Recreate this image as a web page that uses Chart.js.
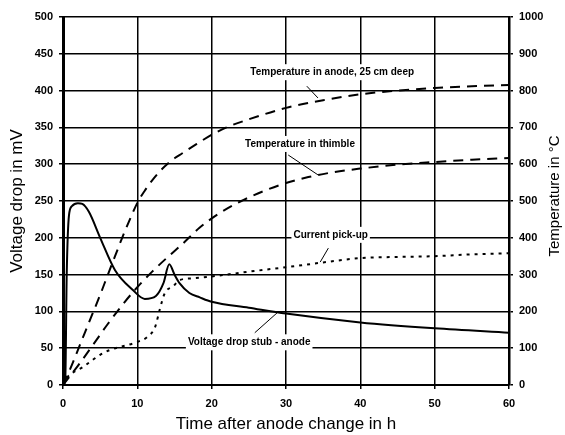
<!DOCTYPE html>
<html>
<head>
<meta charset="utf-8">
<script src="https://cdn.jsdelivr.net/npm/chart.js@4.4.1/dist/chart.umd.min.js"></script>
<style>
  html, body { margin: 0; padding: 0; background: #fff; }
  #wrap { width: 565px; height: 435px; }
</style>
</head>
<body>
<div id="wrap"><canvas id="anodeChart" width="565" height="435"></canvas></div>
<script>
// values
const hourTicks = [0, 10, 20, 30, 40, 50, 60];
const mvTicks = [0, 50, 100, 150, 200, 250, 300, 350, 400, 450, 500];
const tempTicks = [0, 100, 200, 300, 400, 500, 600, 700, 800, 900, 1000];

// voltage drop stub - anode (mV, left axis)
const voltHours = [0, 0.3, 0.5, 0.8, 1.2, 2, 2.6, 3.5, 5, 7, 9.4, 11, 12.5, 13.5, 14.3, 15, 15.7, 17, 18.4, 20, 25, 30, 40, 50, 60];
const voltDrop = [0, 5, 150, 230, 243, 247, 246, 235, 200, 156, 129, 117, 121, 138, 164, 150, 138, 125, 119, 113, 105, 97, 85, 77, 71];

// temperature in anode, 25 cm deep (degC, right axis)
const anodeHours = [0, 1, 2, 3, 4, 5, 6, 7, 8, 9, 10, 11, 12, 13, 14, 15, 16, 18, 20, 22, 25, 30, 35, 40, 45, 50, 55, 60];
const anodeTemp = [0, 45, 95, 145, 195, 245, 298, 350, 402, 450, 495, 528, 556, 580, 600, 616, 629, 655, 680, 700, 722, 753, 774, 790, 800, 807, 812, 815];

// temperature in thimble (degC, right axis)
const thimbleHours = [0, 2, 4, 6, 8, 10, 12, 14, 16, 18.4, 21, 24, 27, 30, 33, 36, 40, 45, 50, 55, 60];
const thimbleTemp = [0, 52, 108, 165, 218, 266, 308, 346, 382, 428, 466, 500, 527, 549, 565, 577, 588, 599, 606, 612, 617];

// current pick-up (degC scale, right axis)
const pickupHours = [0, 0.5, 2.7, 5, 6.3, 10, 11.3, 12.4, 13, 13.7, 14.8, 15.7, 17.5, 20, 25, 30, 35, 40, 45, 50, 55, 60];
const pickupTemp = [0, 19, 49, 82, 95, 117, 130, 158, 204, 250, 268, 285, 290, 295, 308, 320, 333, 345, 348, 350, 355, 358];

const FONT = "Arial, 'Liberation Sans', Helvetica, sans-serif";

function points(xs, ys) {
    return xs.map((x, i) => ({ x: x, y: ys[i] }));
}

// text labels on the plot, placed in data units
const notes = [
    { text: 'Temperature in anode, 25 cm deep', x: 25.2, y: 850, axis: 'y1', from: [32.8, 812], to: [34.3, 780] },
    { text: 'Temperature in thimble', x: 24.5, y: 655, axis: 'y1', from: [30.3, 625], to: [34.3, 571] },
    { text: 'Current pick-up', x: 31, y: 408, axis: 'y1', from: [35.7, 372], to: [34.6, 334] },
    { text: 'Voltage drop stub - anode', x: 16.8, y: 58, axis: 'y', from: [25.8, 71], to: [28.8, 98] }
];

const notesPlugin = {
    id: 'notes',
    beforeDatasetsDraw(chart) {
        const ctx = chart.ctx;
        const xs = chart.scales.x;
        ctx.save();
        ctx.font = 'bold 10px ' + FONT;
        ctx.textBaseline = 'middle';
        notes.forEach(n => {
            const ys = chart.scales[n.axis];
            const px = xs.getPixelForValue(n.x);
            const py = ys.getPixelForValue(n.y);
            const w = ctx.measureText(n.text).width;
            ctx.fillStyle = '#fff';
            ctx.fillRect(px - 2, py - 8, w + 4, 16);
            ctx.fillStyle = '#000';
            ctx.fillText(n.text, px, py);
            ctx.strokeStyle = '#000';
            ctx.lineWidth = 1;
            ctx.beginPath();
            ctx.moveTo(xs.getPixelForValue(n.from[0]), ys.getPixelForValue(n.from[1]));
            ctx.lineTo(xs.getPixelForValue(n.to[0]), ys.getPixelForValue(n.to[1]));
            ctx.stroke();
        });
        ctx.restore();
    },
    afterDraw(chart) {
        // right axis title reads bottom to top
        const ctx = chart.ctx;
        const area = chart.chartArea;
        ctx.save();
        ctx.translate(555, (area.top + area.bottom) / 2 - 5);
        ctx.rotate(-Math.PI / 2);
        ctx.font = '15px ' + FONT;
        ctx.fillStyle = '#000';
        ctx.textAlign = 'center';
        ctx.textBaseline = 'middle';
        ctx.fillText('Temperature in °C', 0, 0);
        ctx.restore();
    }
};

const lineBase = {
    borderColor: '#000',
    borderWidth: 2,
    pointRadius: 0,
    fill: false,
    cubicInterpolationMode: 'monotone'
};

const tickFont = { family: FONT, size: 11, weight: 'bold' };

new Chart(document.getElementById('anodeChart'), {
    type: 'line',
    data: {
        datasets: [
            Object.assign({ label: 'Voltage drop stub - anode', data: points(voltHours, voltDrop), yAxisID: 'y' }, lineBase),
            Object.assign({ label: 'Temperature in anode, 25 cm deep', data: points(anodeHours, anodeTemp), yAxisID: 'y1', borderDash: [10, 7] }, lineBase),
            Object.assign({ label: 'Temperature in thimble', data: points(thimbleHours, thimbleTemp), yAxisID: 'y1', borderDash: [10, 7] }, lineBase),
            Object.assign({ label: 'Current pick-up', data: points(pickupHours, pickupTemp), yAxisID: 'y1', borderDash: [3, 5] }, lineBase)
        ]
    },
    options: {
        responsive: false,
        animation: false,
        layout: { padding: { top: 17, left: 0, right: 0, bottom: 0 } },
        plugins: {
            legend: { display: false },
            tooltip: { enabled: false }
        },
        scales: {
            x: {
                type: 'linear',
                min: 0,
                max: 60,
                afterBuildTicks: s => { s.ticks = hourTicks.map(v => ({ value: v })); },
                afterFit: s => { s.height = 50; },
                grid: { color: '#000', lineWidth: 1.5, tickLength: 4 },
                border: { color: '#000', width: 2 },
                ticks: { color: '#000', font: tickFont, padding: 8, maxRotation: 0, callback: v => String(v) },
                title: {
                    display: true,
                    text: 'Time after anode change in h',
                    color: '#000',
                    font: { family: FONT, size: 17 },
                    padding: { top: 0, bottom: 0 }
                }
            },
            y: {
                position: 'left',
                min: 0,
                max: 500,
                afterBuildTicks: s => { s.ticks = mvTicks.map(v => ({ value: v })); },
                afterFit: s => { s.width = 63; },
                grid: { color: '#000', lineWidth: 1.5, tickLength: 4 },
                border: { color: '#000', width: 3 },
                ticks: { color: '#000', font: tickFont, padding: 6, callback: v => String(v) },
                title: {
                    display: true,
                    text: 'Voltage drop in mV',
                    color: '#000',
                    font: { family: FONT, size: 17 },
                    padding: { top: 7, bottom: 0 }
                }
            },
            y1: {
                position: 'right',
                min: 0,
                max: 1000,
                afterBuildTicks: s => { s.ticks = tempTicks.map(v => ({ value: v })); },
                afterFit: s => { s.width = 56; },
                grid: { drawOnChartArea: false, color: '#000', lineWidth: 1.5, tickLength: 4 },
                border: { color: '#000', width: 2.5 },
                ticks: { color: '#000', font: tickFont, padding: 6, callback: v => String(v) }
            }
        }
    },
    plugins: [notesPlugin]
});
</script>
</body>
</html>
